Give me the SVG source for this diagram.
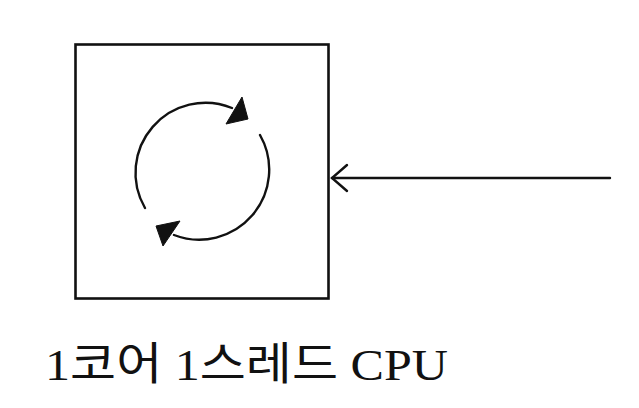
<svg xmlns="http://www.w3.org/2000/svg" width="639" height="408" viewBox="0 0 639 408">
<style>
.ln{fill:none;stroke:#111;stroke-width:2.4;stroke-linecap:round}
.hd{fill:#111;stroke:#111;stroke-width:1;stroke-linejoin:round}
.lbl{font-family:"Liberation Serif","Noto Sans CJK KR",serif;font-size:45px;fill:#111}
</style>
<rect width="639" height="408" fill="#fff"/>
<g id="cpu">
<rect x="75.5" y="44.5" width="253" height="254" fill="#fff" stroke="#111" stroke-width="2.6"/>
<path class="ln" d="M145,208 A70,70 0 0 1 232,108"/>
<polygon class="hd" points="242,97 248,119 226,124"/>
<path class="ln" d="M260,135 A70,70 0 0 1 174,235"/>
<polygon class="hd" points="156,226 180,221 163,246"/>
<text class="lbl" x="45" y="380" textLength="403" lengthAdjust="spacingAndGlyphs">1코어 1스레드 CPU</text>
</g>
<g id="connectors">
<line class="ln" x1="610" y1="178" x2="332" y2="178"/>
<polyline class="ln" points="347,165 332,178 347,191"/>
</g>
</svg>
